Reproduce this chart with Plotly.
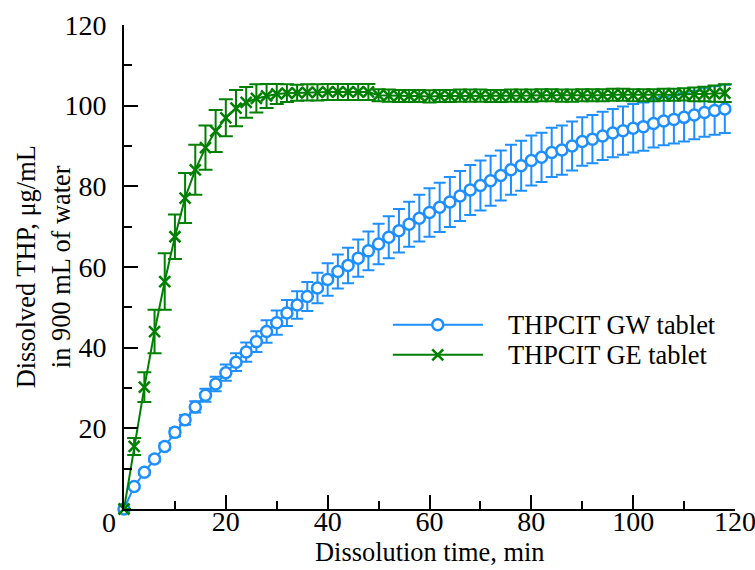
import plotly.graph_objects as go

time_min = list(range(0, 120, 2))

gw_mean = [0, 5.6, 9.1, 12.4, 15.5, 19.0, 22.1, 25.3, 28.2, 31.0,
           33.8, 36.4, 38.9, 41.5, 44.0, 46.2, 48.6, 50.6, 52.7, 54.8,
           56.9, 58.9, 60.4, 62.2, 64.0, 65.7, 67.4, 69.0, 70.6, 72.1,
           73.5, 74.8, 76.1, 77.6, 79.1, 80.2, 81.4, 82.7, 84.1, 85.1,
           86.4, 87.2, 88.4, 89.0, 90.0, 91.1, 91.7, 92.5, 93.2, 93.8,
           94.4, 94.8, 95.6, 96.2, 96.6, 97.1, 97.7, 98.3, 98.8, 99.2]
gw_err = [0, 0.5, 0.6, 0.7, 0.8, 1.0, 1.2, 1.4, 1.6, 1.8,
          2.0, 2.2, 2.4, 2.6, 2.8, 3.0, 3.2, 3.4, 3.6, 3.8,
          4.0, 4.2, 4.4, 4.6, 4.8, 5.0, 5.2, 5.4, 5.6, 5.8,
          6.0, 6.1, 6.2, 6.2, 6.2, 6.2, 6.2, 6.2, 6.2, 6.2,
          6.2, 6.1, 6.1, 6.1, 6.1, 6.0, 6.0, 6.0, 6.0, 6.0,
          6.0, 6.0, 6.0, 6.0, 6.0, 6.0, 6.0, 6.0, 6.0, 6.0]

ge_mean = [0, 15.5, 30.2, 44.0, 56.4, 67.5, 77.1, 84.1, 89.6, 93.7,
           97.0, 99.4, 100.8, 101.8, 102.4, 102.9, 103.1, 103.2, 103.3, 103.3,
           103.4, 103.4, 103.4, 103.4, 103.4, 102.6, 102.5, 102.4, 102.4, 102.4,
           102.3, 102.4, 102.4, 102.5, 102.5, 102.5, 102.4, 102.4, 102.5, 102.5,
           102.5, 102.6, 102.6, 102.5, 102.5, 102.6, 102.6, 102.6, 102.7, 102.7,
           102.6, 102.6, 102.6, 102.7, 102.7, 102.8, 102.8, 102.9, 103.0, 103.1]
ge_err = [0, 2.1, 3.7, 5.4, 7.0, 5.5, 6.2, 6.2, 5.5, 5.2,
          4.6, 4.5, 3.8, 3.5, 3.0, 2.5, 2.2, 2.0, 2.0, 2.0,
          2.0, 2.0, 2.0, 2.0, 2.0, 1.5, 1.5, 1.5, 1.5, 1.5,
          1.5, 1.5, 1.5, 1.5, 1.5, 1.5, 1.5, 1.5, 1.5, 1.5,
          1.5, 1.5, 1.5, 1.5, 1.5, 1.5, 1.5, 1.5, 1.5, 1.5,
          1.5, 1.5, 1.5, 1.5, 1.5, 1.5, 1.7, 1.8, 2.0, 2.2]

series_names = ["THPCIT GW tablet", "THPCIT GE tablet"]
x_ticks = [0, 20, 40, 60, 80, 100, 120]
y_ticks = [0, 20, 40, 60, 80, 100, 120]

BLUE = "#1E8FFF"
GREEN = "#008000"
FONT = "Liberation Serif"
FS_TICK = 28
FS_TEXT = 26.4

fig = go.Figure()

fig.add_trace(go.Scatter(
    x=time_min, y=gw_mean, mode="lines+markers", name=series_names[0],
    line=dict(color=BLUE, width=2),
    marker=dict(symbol="circle", size=11, color="white",
                line=dict(color=BLUE, width=2.5)),
    error_y=dict(type="data", array=gw_err, visible=True, color=BLUE,
                 thickness=2, width=6),
    cliponaxis=False, showlegend=False))

fig.add_trace(go.Scatter(
    x=time_min, y=ge_mean, mode="lines+markers", name=series_names[1],
    line=dict(color=GREEN, width=2),
    marker=dict(symbol="x-thin", size=11, color=GREEN,
                line=dict(color=GREEN, width=2.5)),
    error_y=dict(type="data", array=ge_err, visible=True, color=GREEN,
                 thickness=2, width=7),
    cliponaxis=False, showlegend=False))

# manual legend (drawn on a hidden overlay axis in plot-fraction units)
leg_x0, leg_x1, leg_xm = 0.44, 0.5875, 0.5135
leg_y = [0.3806, 0.3186]
fig.add_trace(go.Scatter(x=[leg_x0, leg_x1], y=[leg_y[0]] * 2, mode="lines",
                         line=dict(color=BLUE, width=2), xaxis="x2", yaxis="y2",
                         showlegend=False, hoverinfo="skip"))
fig.add_trace(go.Scatter(x=[leg_xm], y=[leg_y[0]], mode="markers",
                         marker=dict(symbol="circle", size=11, color="white",
                                     line=dict(color=BLUE, width=2.5)),
                         xaxis="x2", yaxis="y2", showlegend=False, hoverinfo="skip"))
fig.add_trace(go.Scatter(x=[leg_x0, leg_x1], y=[leg_y[1]] * 2, mode="lines",
                         line=dict(color=GREEN, width=2), xaxis="x2", yaxis="y2",
                         showlegend=False, hoverinfo="skip"))
fig.add_trace(go.Scatter(x=[leg_xm], y=[leg_y[1]], mode="markers",
                         marker=dict(symbol="x-thin", size=11, color=GREEN,
                                     line=dict(color=GREEN, width=2.5)),
                         xaxis="x2", yaxis="y2", showlegend=False, hoverinfo="skip"))

axis_common = dict(showline=True, linecolor="black", linewidth=2,
                   ticks="inside", ticklen=14, tickwidth=2, tickcolor="black",
                   showgrid=False, zeroline=False, automargin=False,
                   tickfont=dict(family=FONT, size=FS_TICK, color="black"),
                   minor=dict(tickmode="linear", tick0=0, dtick=10, ticks="inside",
                              ticklen=8, tickwidth=2, tickcolor="black", showgrid=False))

fig.update_layout(
    width=755, height=570,
    margin=dict(l=124, r=20, t=25, b=61),
    plot_bgcolor="white", paper_bgcolor="white",
    font=dict(family=FONT, size=FS_TEXT, color="black"),
    xaxis=dict(range=[0, 120], tickmode="array", tickvals=x_ticks,
               showticklabels=False, **axis_common),
    # label-only companion axis for the x tick labels (no tick marks)
    xaxis3=dict(range=[0, 120], overlaying="x", anchor="free", position=0.0145,
                side="bottom", tickmode="array", tickvals=x_ticks[1:],
                ticktext=[str(v) for v in x_ticks[1:]],
                ticks="", showline=False, showgrid=False, zeroline=False,
                automargin=False, fixedrange=True, ticklabeloverflow="allow",
                tickfont=dict(family=FONT, size=FS_TICK, color="black")),
    yaxis=dict(range=[0, 120], domain=[0, 1], tickmode="array", tickvals=y_ticks,
               ticktext=[""] + [str(v) for v in y_ticks[1:]],
               ticklabelstandoff=10, **axis_common),
    xaxis2=dict(range=[0, 1], overlaying="x", visible=False, fixedrange=True),
    yaxis2=dict(range=[0, 1], overlaying="y", visible=False, fixedrange=True),
    showlegend=False,
    annotations=[
        dict(text="0", xref="paper", yref="paper", x=-0.0238, y=-0.0283,
             xanchor="center", yanchor="middle", showarrow=False,
             font=dict(family=FONT, size=FS_TICK, color="black")),
        dict(text="Dissolution time, min", xref="paper", yref="paper", x=0.5, y=-0.088,
             xanchor="center", yanchor="middle", showarrow=False,
             font=dict(family=FONT, size=FS_TEXT, color="black")),
        dict(text="Dissolved THP, μg/mL<br>in 900 mL of water", xref="paper", yref="paper",
             x=-0.132, y=0.5, xanchor="center", yanchor="middle", textangle=-90,
             showarrow=False, font=dict(family=FONT, size=FS_TEXT, color="black")),
        dict(text=series_names[0], xref="paper", yref="paper", x=0.6252, y=leg_y[0],
             xanchor="left", yanchor="middle", showarrow=False,
             font=dict(family=FONT, size=FS_TEXT, color="black")),
        dict(text=series_names[1], xref="paper", yref="paper", x=0.6252, y=leg_y[1],
             xanchor="left", yanchor="middle", showarrow=False,
             font=dict(family=FONT, size=FS_TEXT, color="black")),
    ],
)

# an empty trace bound to the label axis so that it is rendered
fig.add_trace(go.Scatter(x=[], y=[], xaxis="x3", yaxis="y", showlegend=False,
                         hoverinfo="skip"))

fig.write_html("out.html", config={"displayModeBar": False},
               post_script="document.body.style.margin='0';"
                           "document.body.style.overflow='hidden';")
